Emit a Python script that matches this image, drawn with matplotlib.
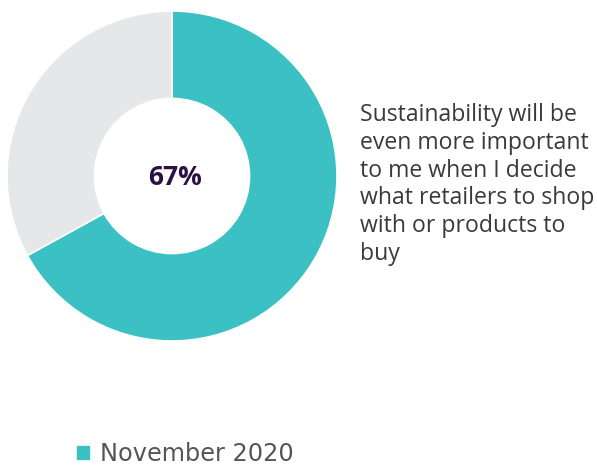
import matplotlib.pyplot as plt

labels = ['November 2020', 'Other']
values = [67, 33]
colors = ['#3bc0c3', '#e6e7e9']
center_label = '67%'
statement = ('Sustainability will be\neven more important\nto me when I decide\n'
             'what retailers to shop\nwith or products to\nbuy')

fig = plt.figure(figsize=(5.97, 4.67), dpi=100)
ax = fig.add_axes([7/597, (467-342)/467, 330/597, 332/467])
wedges, _ = ax.pie(values, colors=colors, startangle=90, counterclock=False,
                   radius=1, wedgeprops=dict(width=0.53, edgecolor='white', linewidth=1.2))
ax.set_xlim(-1, 1)
ax.set_ylim(-1, 1)
ax.set_aspect('equal')
ax.axis('off')

ax.text(0.02, -0.01, center_label, ha='center', va='center', fontsize=19,
        fontweight='bold', color='#2b1143', family='Open Sans')

fig.text(360/597, 1 - 103/467, statement, ha='left', va='top', fontsize=16.6,
         color='#3a3a3a', family='Open Sans', linespacing=1.21)

fig.legend([wedges[0]], [labels[0]], loc='lower left', bbox_to_anchor=(54/597, -21/467),
           frameon=False, handlelength=0.65, handleheight=0.65,
           handletextpad=0.35, labelcolor='#555555', prop={'family': 'DejaVu Sans', 'size': 17.3})

fig.savefig('out.png', dpi=100)
